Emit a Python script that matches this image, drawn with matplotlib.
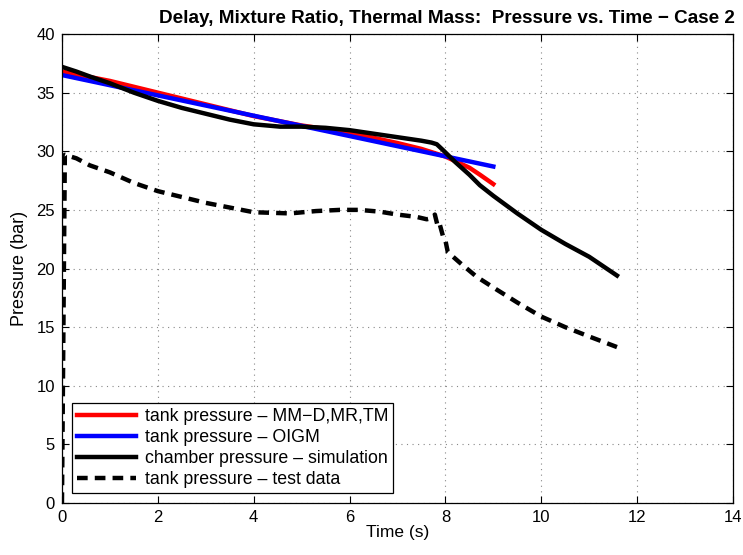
#!/usr/bin/env python3
"""Pressure vs time, case 2: tank models vs chamber simulation vs test data."""
import matplotlib
matplotlib.use("Agg")
import matplotlib.pyplot as plt

# tank pressure - MM-D,MR,TM
t_mm = [0.0, 0.5, 1.0, 2.0, 3.0, 4.0, 5.0, 6.0, 7.0, 7.5, 8.0, 8.5, 8.72, 9.0]
p_mm = [36.8, 36.4, 36.0, 35.0, 34.0, 33.0, 32.2, 31.6, 30.7, 30.2, 29.55, 28.6, 28.0, 27.2]

# tank pressure - OIGM
t_oigm = [0.0, 9.0]
p_oigm = [36.5, 28.7]

# chamber pressure - simulation
t_sim = [0.0, 0.3, 0.6, 1.0, 1.5, 2.0, 2.5, 3.0, 3.5, 4.0, 4.55, 5.0, 5.5, 6.0, 6.5, 7.0,
         7.5, 7.71, 7.82, 7.95, 8.2, 8.5, 8.72, 9.0, 9.5, 10.0, 10.5, 11.0, 11.58]
p_sim = [37.2, 36.8, 36.35, 35.8, 35.0, 34.3, 33.7, 33.2, 32.7, 32.3, 32.1, 32.1, 32.0, 31.8,
         31.5, 31.2, 30.9, 30.74, 30.6, 30.1, 29.1, 28.0, 27.1, 26.2, 24.7, 23.3, 22.1, 21.0, 19.4]

# tank pressure - test data
t_test = [0.0, 0.06, 0.3, 0.58, 1.0, 1.5, 2.0, 2.5, 3.0, 3.5, 4.0, 4.76, 5.3, 5.8, 6.2,
          6.63, 7.0, 7.4, 7.61, 7.72, 7.78, 7.84, 7.88, 7.96, 8.0, 8.05, 8.3, 8.65,
          9.07, 9.5, 10.0, 10.5, 11.0, 11.58]
p_test = [0.0, 29.7, 29.4, 28.8, 28.2, 27.3, 26.6, 26.1, 25.6, 25.2, 24.8, 24.7, 24.9, 25.0, 25.0,
          24.85, 24.6, 24.4, 24.2, 24.3, 24.6, 23.6, 23.8, 22.6, 22.4, 21.4, 20.5, 19.3,
          18.2, 17.1, 15.9, 15.0, 14.2, 13.3]

plt.rcParams["font.family"] = ["Liberation Sans", "DejaVu Sans"]

fig = plt.figure(figsize=(7.43, 5.55), dpi=100)
ax = fig.add_axes([0.0834, 0.0937, 0.9031, 0.845])

ax.plot(t_mm, p_mm, color="red", lw=3.2, label="tank pressure \u2013 MM\u2212D,MR,TM")
ax.plot(t_oigm, p_oigm, color="blue", lw=3.2, label="tank pressure \u2013 OIGM")
ax.plot(t_sim, p_sim, color="black", lw=3.2, label="chamber pressure \u2013 simulation")
ax.plot(t_test, p_test, color="black", lw=3.2, ls=(0, (2.4, 1.6)),
        label="tank pressure \u2013 test data")

ax.set_xlim(0, 14)
ax.set_ylim(0, 40)
ax.set_xticks(range(0, 15, 2))
ax.set_yticks(range(0, 41, 5))
ax.tick_params(direction="in", top=True, right=True, length=5, labelsize=12, pad=5)
ax.grid(True, ls=(0, (1, 4)), color="#888888", lw=0.8)
for s in ax.spines.values():
    s.set_linewidth(0.9)

ax.set_xlabel("Time (s)", fontsize=12.5, labelpad=0)
ax.set_ylabel("Pressure (bar)", fontsize=13, labelpad=6)
ax.set_title("Delay, Mixture Ratio, Thermal Mass:  Pressure vs. Time \u2212 Case 2",
             fontsize=13.6, fontweight="bold", pad=8, x=0.574)

leg = ax.legend(loc="lower left", fontsize=12.8, handlelength=3.3, labelspacing=0.22,
                borderaxespad=0.55, fancybox=False, framealpha=1, edgecolor="black",
                borderpad=0.3, handletextpad=0.5)
leg.get_frame().set_linewidth(0.9)

fig.savefig("out.png", dpi=100)
